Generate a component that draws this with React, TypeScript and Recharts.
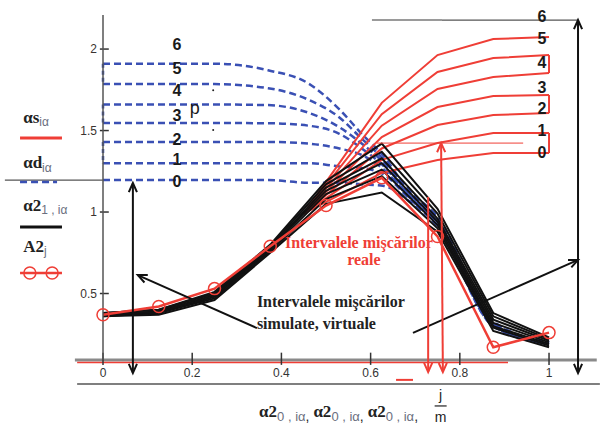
import React from "react";
import { LineChart, Line, XAxis, YAxis, ReferenceLine, ReferenceDot } from "recharts";

const RED = "#ef3e36";
const BLUE = "#3a50b4";
const BLACK = "#111111";

// axis ticks
const xTicks = [0, 0.2, 0.4, 0.6, 0.8, 1];
const yTicks = [0.5, 1, 1.5, 2];

// A2_j (red with circles) at j/m, m = 8
const gridX = [0, 0.125, 0.25, 0.375, 0.5, 0.625, 0.75, 0.875, 1];
const a2 = [0.37, 0.42, 0.53, 0.79, 1.04, 1.21, 0.85, 0.17, 0.26];

// alpha2_1 (black), lowest peak first
const alpha21 = [
  [0.36, 0.37, 0.46, 0.75, 1.05, 1.12, 0.88, 0.27, 0.17],
  [0.36, 0.38, 0.47, 0.76, 1.08, 1.22, 0.9, 0.29, 0.18],
  [0.37, 0.38, 0.48, 0.77, 1.11, 1.26, 0.92, 0.3, 0.19],
  [0.37, 0.39, 0.49, 0.78, 1.13, 1.3, 0.94, 0.32, 0.2],
  [0.37, 0.39, 0.49, 0.78, 1.15, 1.33, 0.96, 0.34, 0.21],
  [0.38, 0.4, 0.5, 0.79, 1.17, 1.37, 0.99, 0.36, 0.22],
  [0.38, 0.4, 0.51, 0.8, 1.19, 1.42, 1.02, 0.38, 0.23],
];

// alpha_s (red), top first
const sX = [0.45, 0.625, 0.75, 0.875, 1];
const alphaS = [
  [0.99, 1.67, 1.963, 2.061, 2.074],
  [0.99, 1.6, 1.859, 1.945, 1.963],
  [0.99, 1.53, 1.755, 1.828, 1.853],
  [0.99, 1.46, 1.644, 1.712, 1.718],
  [0.99, 1.39, 1.534, 1.595, 1.607],
  [0.99, 1.32, 1.423, 1.485, 1.485],
  [0.99, 1.24, 1.319, 1.362, 1.362],
];
const sPairs = [[1, 2], [3, 4], [5, 6]];

// alpha_d (blue dashed), top first
const dX = [0, 0.25, 0.37, 0.46, 0.53, 0.58, 0.63, 0.68, 0.75, 0.875, 1];
const alphaD = [
  [1.91, 1.91, 1.87, 1.79, 1.63, 1.48, 1.34, 1.15, 0.97, 0.33, 0.2],
  [1.785, 1.785, 1.76, 1.69, 1.58, 1.45, 1.32, 1.14, 0.96, 0.32, 0.2],
  [1.66, 1.66, 1.656, 1.61, 1.52, 1.42, 1.3, 1.13, 0.95, 0.32, 0.2],
  [1.546, 1.546, 1.545, 1.53, 1.48, 1.39, 1.28, 1.12, 0.94, 0.31, 0.19],
  [1.43, 1.43, 1.43, 1.42, 1.39, 1.35, 1.26, 1.11, 0.93, 0.31, 0.19],
  [1.3, 1.3, 1.3, 1.3, 1.28, 1.27, 1.23, 1.1, 0.92, 0.3, 0.19],
  [1.196, 1.196, 1.196, 1.18, 1.18, 1.17, 1.16, 1.08, 0.91, 0.3, 0.19],
];
const dPairs = [[0, 1], [2, 3], [4, 5]];

const levelLabels = ["6", "5", "4", "3", "2", "1", "0"];
const blueLabelY = [2.03, 1.88, 1.745, 1.595, 1.445, 1.32, 1.19];
const redLabelY = [2.202, 2.067, 1.92, 1.767, 1.638, 1.503, 1.368];

const toPts = (xs: number[], ys: number[]) => xs.map((x, i) => ({ x, y: ys[i] }));

function arrow(color: string, width: number, both: boolean) {
  return (p: any) => {
    const { x1, y1, x2, y2 } = p;
    const head = (tx: number, ty: number, fx: number, fy: number) => {
      const a = Math.atan2(ty - fy, tx - fx);
      const L = 10;
      const s = 0.42;
      const a1 = [tx - L * Math.cos(a - s), ty - L * Math.sin(a - s)];
      const a3 = [tx - L * Math.cos(a + s), ty - L * Math.sin(a + s)];
      return (
        <polyline
          points={`${a1[0]},${a1[1]} ${tx},${ty} ${a3[0]},${a3[1]}`}
          fill="none"
          stroke={color}
          strokeWidth={width}
        />
      );
    };
    return (
      <g>
        <line x1={x1} y1={y1} x2={x2} y2={y2} stroke={color} strokeWidth={width} />
        {head(x2, y2, x1, y1)}
        {both && head(x1, y1, x2, y2)}
      </g>
    );
  };
}

const sym = (main: string, sub: string, size = 17) => (p: any) => (
  <text x={p.cx} y={p.cy} dominantBaseline="central" fontFamily="Liberation Serif" fontWeight="bold" fontSize={size} fill="#222">
    {main}
    <tspan fontFamily="Liberation Sans" fontWeight="normal" fontSize={12} fill="#6b6f80" dy={5}>
      {sub}
    </tspan>
  </text>
);

const label = (txt: string, opts: any) => (p: any) => (
  <text x={p.cx} y={p.cy} dominantBaseline="central" {...opts}>
    {txt}
  </text>
);

const digit = { fontFamily: "Liberation Sans", fontWeight: "bold", fontSize: 16, fill: "#1a1a1a", textAnchor: "middle" };
const serifBold = { fontFamily: "Liberation Serif", fontWeight: "bold", fontSize: 16 };

const xLabel = (p: any) => {
  const part = (k: number) => [
    <tspan key={"m" + k} fontFamily="Liberation Serif" fontWeight="bold" fontSize={17} fill="#222" dy={k === 0 ? 0 : -4}>
      α2
    </tspan>,
    <tspan key={"s" + k} fontFamily="Liberation Sans" fontSize={13} fill="#6b6f80" dy={4}>
      0 , iα
    </tspan>,
    <tspan key={"c" + k} fontFamily="Liberation Sans" fontSize={14} fill="#222">
      ,{" "}
    </tspan>,
  ];
  return (
    <text x={p.cx} y={p.cy}>
      {part(0)}
      {part(1)}
      {part(2)}
    </text>
  );
};

const fraction = (p: any) => (
  <g fontFamily="Liberation Sans" fontSize={14} fill="#222" textAnchor="middle">
    <text x={p.cx} y={p.cy - 6}>j</text>
    <line x1={p.cx - 6} y1={p.cy} x2={p.cx + 6} y2={p.cy} stroke="#222" strokeWidth={1.2} />
    <text x={p.cx} y={p.cy + 16}>m</text>
  </g>
);

export default function App() {
  const V = "visible" as const;
  return (
    <div style={{ position: "absolute", left: 0, top: 0, width: 603, height: 436, background: "#fff" }}>
      <LineChart width={603} height={436} margin={{ top: 15, right: 0, bottom: 51, left: 73 }}>
        <XAxis
          type="number"
          dataKey="x"
          domain={[0, 1.121]}
          ticks={xTicks}
          tickLine={false}
          axisLine={false}
          tickSize={6}
          tickMargin={2}
          height={25}
          tick={{ fontSize: 12, fill: "#333", fontFamily: "Liberation Sans" }}
        />
        <YAxis
          type="number"
          dataKey="y"
          domain={[0.092, 2.209]}
          ticks={yTicks}
          tickLine={false}
          axisLine={{ stroke: "#555", strokeWidth: 1.5 }}
          tickSize={4}
          tickMargin={2}
          width={30}
          tick={{ fontSize: 12, fill: "#3a3330", fontFamily: "Liberation Sans" }}
        />

        {/* axis decorations */}
        <ReferenceLine ifOverflow={V} segment={[{ x: -0.063, y: 0.092 }, { x: 1.107, y: 0.092 }]} stroke="#8a8a8a" strokeWidth={3} />
        <ReferenceLine ifOverflow={V} segment={[{ x: -0.058, y: 0.077 }, { x: 0.908, y: 0.077 }]} stroke={RED} strokeWidth={1.5} />
        <ReferenceLine ifOverflow={V} segment={[{ x: -0.058, y: -0.055 }, { x: 1.114, y: -0.055 }]} stroke="#555" strokeWidth={1.5} />
        <ReferenceLine ifOverflow={V} segment={[{ x: 0.657, y: -0.03 }, { x: 0.695, y: -0.03 }]} stroke={RED} strokeWidth={2} />
        {xTicks.map((v) => (
          <ReferenceLine key={"xt" + v} ifOverflow={V} segment={[{ x: v, y: 0.062 }, { x: v, y: 0.137 }]} stroke="#333" strokeWidth={1.5} />
        ))}
        {yTicks.map((v) => (
          <ReferenceLine key={"yt" + v} ifOverflow={V} segment={[{ x: -0.007, y: v }, { x: 0.013, y: v }]} stroke="#333" strokeWidth={1.5} />
        ))}
        <ReferenceLine ifOverflow={V} segment={[{ x: -0.22, y: 1.196 }, { x: 0, y: 1.196 }]} stroke="#555" strokeWidth={1.3} />

        {/* alpha_d blue dashed */}
        {alphaD.map((ys, i) => (
          <Line key={"d" + i} data={toPts(dX, ys)} dataKey="y" type="monotone" stroke={BLUE} strokeWidth={2.5} strokeDasharray="7 4" dot={false} isAnimationActive={false} />
        ))}
        {dPairs.map(([a, b]) => (
          <Line key={"dp" + a} data={[{ x: 0, y: alphaD[a][0] }, { x: 0, y: alphaD[b][0] }]} dataKey="y" type="linear" stroke={BLUE} strokeWidth={2.5} strokeDasharray="4 3" dot={false} isAnimationActive={false} />
        ))}

        {/* alpha_s red */}
        {alphaS.map((ys, i) => (
          <Line key={"s" + i} data={toPts(sX, ys)} dataKey="y" type="linear" stroke={RED} strokeWidth={2} dot={false} isAnimationActive={false} />
        ))}
        {sPairs.map(([a, b]) => (
          <Line key={"sp" + a} data={[{ x: 1, y: alphaS[a][4] }, { x: 1, y: alphaS[b][4] }]} dataKey="y" type="linear" stroke={RED} strokeWidth={2} dot={false} isAnimationActive={false} />
        ))}

        {/* alpha2_1 black */}
        {alpha21.map((ys, i) => (
          <Line key={"b" + i} data={toPts(gridX, ys)} dataKey="y" type="linear" stroke={BLACK} strokeWidth={2} dot={false} isAnimationActive={false} />
        ))}

        {/* A2_j */}
        <Line
          data={toPts(gridX, a2)}
          dataKey="y"
          type="linear"
          stroke={RED}
          strokeWidth={2.5}
          dot={{ r: 6, stroke: RED, strokeWidth: 1.5, fill: "none" }}
          isAnimationActive={false}
        />

        {/* level labels */}
        {levelLabels.map((t, i) => (
          <ReferenceDot key={"bl" + t} ifOverflow={V} x={0.166} y={blueLabelY[i]} r={0} shape={label(t, digit)} />
        ))}
        {levelLabels.map((t, i) => (
          <ReferenceDot key={"rl" + t} ifOverflow={V} x={0.984} y={redLabelY[i]} r={0} shape={label(t, digit)} />
        ))}
        <ReferenceDot ifOverflow={V} x={0.206} y={1.638} r={0} shape={label("p", { ...digit, fontWeight: "normal", fontSize: 18 })} />
        <ReferenceDot ifOverflow={V} x={0.247} y={1.748} r={1} fill="#222" stroke="none" />
        <ReferenceDot ifOverflow={V} x={0.247} y={1.503} r={1} fill="#222" stroke="none" />

        {/* annotations */}
        <ReferenceLine ifOverflow={V} segment={[{ x: 0.603, y: 2.178 }, { x: 0.76, y: 2.178 }]} stroke="#9a9a9a" strokeWidth={2} />
        <ReferenceLine ifOverflow={V} segment={[{ x: 0.76, y: 2.178 }, { x: 1.065, y: 2.178 }]} stroke="#555" strokeWidth={1.2} />
        <ReferenceLine ifOverflow={V} segment={[{ x: 1.065, y: 2.178 }, { x: 1.065, y: 0.012 }]} shape={arrow(BLACK, 2, true)} />
        <ReferenceLine ifOverflow={V} segment={[{ x: 0.067, y: 1.178 }, { x: 0.067, y: 0.012 }]} shape={arrow(BLACK, 2, true)} />
        <ReferenceLine ifOverflow={V} segment={[{ x: 0.345, y: 0.288 }, { x: 0.078, y: 0.613 }]} shape={arrow(BLACK, 2, false)} />
        <ReferenceLine ifOverflow={V} segment={[{ x: 0.695, y: 0.258 }, { x: 1.065, y: 0.706 }]} shape={arrow(BLACK, 2, false)} />
        <ReferenceLine ifOverflow={V} segment={[{ x: 0.614, y: 1.423 }, { x: 0.942, y: 1.423 }]} stroke={RED} strokeWidth={1} />
        <ReferenceLine ifOverflow={V} segment={[{ x: 0.729, y: 1.092 }, { x: 0.729, y: 0.018 }]} shape={arrow(RED, 2, false)} />
        <ReferenceLine ifOverflow={V} segment={[{ x: 0.758, y: 1.423 }, { x: 0.762, y: 0.018 }]} shape={arrow(RED, 2, true)} />

        <ReferenceDot ifOverflow={V} x={0.408} y={0.816} r={0} shape={label("Intervalele mişcărilor", { ...serifBold, fill: RED })} />
        <ReferenceDot ifOverflow={V} x={0.585} y={0.706} r={0} shape={label("reale", { ...serifBold, fill: RED, textAnchor: "middle" })} />
        <ReferenceDot ifOverflow={V} x={0.345} y={0.448} r={0} shape={label("Intervalele mişcărilor", { ...serifBold, fill: "#222" })} />
        <ReferenceDot ifOverflow={V} x={0.345} y={0.319} r={0} shape={label("simulate, virtuale", { ...serifBold, fill: "#222" })} />

        {/* legend */}
        <ReferenceDot ifOverflow={V} x={-0.179} y={1.583} r={0} shape={sym("αs", "iα")} />
        <ReferenceLine ifOverflow={V} segment={[{ x: -0.186, y: 1.454 }, { x: -0.092, y: 1.454 }]} stroke={RED} strokeWidth={3} />
        <ReferenceDot ifOverflow={V} x={-0.179} y={1.301} r={0} shape={sym("αd", "iα")} />
        <ReferenceLine ifOverflow={V} segment={[{ x: -0.186, y: 1.184 }, { x: -0.103, y: 1.184 }]} stroke={BLUE} strokeWidth={2.5} strokeDasharray="7 4" />
        <ReferenceDot ifOverflow={V} x={-0.179} y={1.043} r={0} shape={sym("α2", "1 , iα")} />
        <ReferenceLine ifOverflow={V} segment={[{ x: -0.186, y: 0.908 }, { x: -0.092, y: 0.908 }]} stroke={BLACK} strokeWidth={3} />
        <ReferenceDot ifOverflow={V} x={-0.179} y={0.791} r={0} shape={sym("A2", "j")} />
        <ReferenceLine ifOverflow={V} segment={[{ x: -0.186, y: 0.626 }, { x: -0.092, y: 0.626 }]} stroke={RED} strokeWidth={2.5} />
        <ReferenceDot ifOverflow={V} x={-0.164} y={0.626} r={6} fill="none" stroke={RED} strokeWidth={1.5} />
        <ReferenceDot ifOverflow={V} x={-0.114} y={0.626} r={6} fill="none" stroke={RED} strokeWidth={1.5} />

        {/* x axis title */}
        <ReferenceDot ifOverflow={V} x={0.35} y={-0.26} r={0} shape={xLabel} />
        <ReferenceDot ifOverflow={V} x={0.757} y={-0.19} r={0} shape={fraction} />
      </LineChart>
    </div>
  );
}
